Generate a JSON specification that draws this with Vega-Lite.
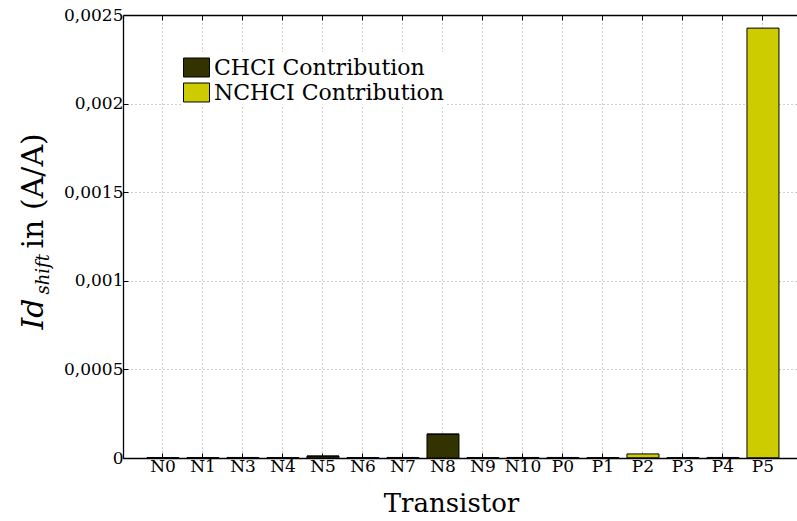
{
  "$schema": "https://vega.github.io/schema/vega-lite/v6.json",
  "width": 674,
  "height": 443,
  "autosize": {"type": "none"},
  "padding": {"left": 123, "top": 15, "right": 0, "bottom": 63},
  "background": "white",
  "config": {
    "locale": {"number": {"decimal": ",", "thousands": ".", "grouping": [3], "currency": ["", " €"]}},
    "font": "DejaVu Serif",
    "view": {"stroke": null},
    "axis": {
      "labelFont": "DejaVu Serif",
      "titleFont": "DejaVu Serif",
      "labelColor": "black",
      "titleColor": "black",
      "titleFontWeight": "normal",
      "domainColor": "black",
      "domainWidth": 1.3,
      "tickColor": "black",
      "tickWidth": 1,
      "gridColor": "#9a9a9a",
      "gridDash": [1, 3],
      "gridWidth": 1,
      "gridOpacity": 1
    },
    "legend": {
      "labelFont": "DejaVu Serif",
      "labelColor": "black",
      "labelLimit": 400
    }
  },
  "data": {
    "values": [
      {"t": "N0", "type": "CHCI Contribution", "k": 0, "v": 0.000001},
      {"t": "N0", "type": "NCHCI Contribution", "k": 1, "v": 0.000001},
      {"t": "N1", "type": "CHCI Contribution", "k": 0, "v": 0.000001},
      {"t": "N1", "type": "NCHCI Contribution", "k": 1, "v": 0.000001},
      {"t": "N3", "type": "CHCI Contribution", "k": 0, "v": 0.000002},
      {"t": "N3", "type": "NCHCI Contribution", "k": 1, "v": 0.000001},
      {"t": "N4", "type": "CHCI Contribution", "k": 0, "v": 0.000001},
      {"t": "N4", "type": "NCHCI Contribution", "k": 1, "v": 0.000001},
      {"t": "N5", "type": "CHCI Contribution", "k": 0, "v": 0.00001},
      {"t": "N5", "type": "NCHCI Contribution", "k": 1, "v": 0.000001},
      {"t": "N6", "type": "CHCI Contribution", "k": 0, "v": 0.000001},
      {"t": "N6", "type": "NCHCI Contribution", "k": 1, "v": 0.000001},
      {"t": "N7", "type": "CHCI Contribution", "k": 0, "v": 0.000002},
      {"t": "N7", "type": "NCHCI Contribution", "k": 1, "v": 0.000001},
      {"t": "N8", "type": "CHCI Contribution", "k": 0, "v": 0.000134},
      {"t": "N8", "type": "NCHCI Contribution", "k": 1, "v": 0.000001},
      {"t": "N9", "type": "CHCI Contribution", "k": 0, "v": 0.000001},
      {"t": "N9", "type": "NCHCI Contribution", "k": 1, "v": 0.000001},
      {"t": "N10", "type": "CHCI Contribution", "k": 0, "v": 0.000002},
      {"t": "N10", "type": "NCHCI Contribution", "k": 1, "v": 0.000001},
      {"t": "P0", "type": "CHCI Contribution", "k": 0, "v": 0.000001},
      {"t": "P0", "type": "NCHCI Contribution", "k": 1, "v": 0.000002},
      {"t": "P1", "type": "CHCI Contribution", "k": 0, "v": 0.000001},
      {"t": "P1", "type": "NCHCI Contribution", "k": 1, "v": 0.000001},
      {"t": "P2", "type": "CHCI Contribution", "k": 0, "v": 0.000001},
      {"t": "P2", "type": "NCHCI Contribution", "k": 1, "v": 0.000022},
      {"t": "P3", "type": "CHCI Contribution", "k": 0, "v": 0.000001},
      {"t": "P3", "type": "NCHCI Contribution", "k": 1, "v": 0.000001},
      {"t": "P4", "type": "CHCI Contribution", "k": 0, "v": 0.000001},
      {"t": "P4", "type": "NCHCI Contribution", "k": 1, "v": 0.000002},
      {"t": "P5", "type": "CHCI Contribution", "k": 0, "v": 0.000001},
      {"t": "P5", "type": "NCHCI Contribution", "k": 1, "v": 0.002425}
    ]
  },
  "layer": [
    {
      "mark": {"type": "bar", "stroke": "black", "strokeWidth": 1},
      "encoding": {
        "x": {
          "field": "t",
          "type": "nominal",
          "sort": null,
          "scale": {"paddingInner": 0.2, "paddingOuter": 0.525, "align": 0.571},
          "axis": {
            "orient": "bottom",
            "labelAngle": 0,
            "labelFontSize": 17,
            "labelPadding": 5,
            "tickSize": -5,
            "grid": true,
            "title": "Transistor",
            "titleFontSize": 26,
            "titleAngle": 0,
            "titleAlign": "center",
            "titleBaseline": "alphabetic",
            "titleX": 328,
            "titleY": 53
          }
        },
        "y": {
          "field": "v",
          "type": "quantitative",
          "stack": "zero",
          "scale": {"domain": [0, 0.0025], "nice": false},
          "axis": {
            "orient": "left",
            "values": [0, 0.0005, 0.001, 0.0015, 0.002, 0.0025],
            "format": ".4~f",
            "labelFontSize": 17,
            "labelPadding": 5,
            "tickSize": -5,
            "grid": true,
            "title": "in (A/A)",
            "titleFontSize": 30,
            "titleAngle": -90,
            "titleAlign": "left",
            "titleBaseline": "alphabetic",
            "titleX": -81,
            "titleY": 233
          }
        },
        "color": {
          "field": "type",
          "type": "nominal",
          "scale": {"domain": ["CHCI Contribution", "NCHCI Contribution"], "range": ["#333300", "#cccc00"]},
          "legend": {
            "title": null,
            "orient": "none",
            "legendX": 58,
            "legendY": 37,
            "padding": 2,
            "fillColor": "white",
            "symbolType": "M -1 -0.73 L 1 -0.73 L 1 0.73 L -1 0.73 Z",
            "symbolSize": 676,
            "symbolStrokeColor": "black",
            "symbolStrokeWidth": 1,
            "symbolOpacity": 1,
            "labelFontSize": 22,
            "labelOffset": 4,
            "labelLimit": 400,
            "rowPadding": 0
          }
        },
        "order": {"field": "k", "type": "quantitative"}
      }
    },
    {
      "mark": {"type": "rule", "opacity": 0},
      "encoding": {
        "x": {
          "field": "t",
          "type": "nominal",
          "sort": null,
          "axis": {
            "orient": "top",
            "labels": false,
            "title": null,
            "grid": false,
            "tickSize": -5
          }
        }
      }
    },
    {
      "mark": {"type": "rule", "opacity": 0},
      "encoding": {
        "y": {
          "datum": 0,
          "type": "quantitative",
          "axis": {
            "orient": "left",
            "labels": false,
            "ticks": false,
            "domain": false,
            "grid": false,
            "title": "Id",
            "titleFontSize": 30,
            "titleFontStyle": "italic",
            "titleAngle": -90,
            "titleAlign": "left",
            "titleBaseline": "alphabetic",
            "titleX": -81,
            "titleY": 314
          }
        }
      }
    },
    {
      "mark": {"type": "rule", "opacity": 0},
      "encoding": {
        "y": {
          "datum": 0,
          "type": "quantitative",
          "axis": {
            "orient": "left",
            "labels": false,
            "ticks": false,
            "domain": false,
            "grid": false,
            "title": "shift",
            "titleFontSize": 18,
            "titleFontStyle": "italic",
            "titleAngle": -90,
            "titleAlign": "left",
            "titleBaseline": "alphabetic",
            "titleX": -75,
            "titleY": 279
          }
        }
      }
    }
  ],
  "resolve": {"axis": {"x": "independent", "y": "independent"}}
}
